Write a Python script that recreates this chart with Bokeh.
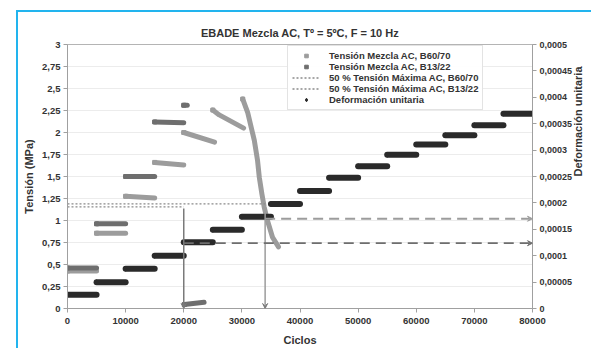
import math
from bokeh.plotting import figure
from bokeh.models import (Range1d, LinearAxis, FixedTicker, Legend, LegendItem,
                          Arrow, VeeHead, CustomJSTickFormatter)
from bokeh.embed import file_html
from bokeh.resources import INLINE

# ---------------- data ----------------
title_text = "EBADE Mezcla AC, Tº = 5ºC, F = 10 Hz"

# Deformación unitaria (steps of load)
step_start = [0, 5000, 10000, 15000, 20000, 25000, 30000, 35000,
              40000, 45000, 50000, 55000, 60000, 65000, 70000, 75000]
step_end = [5000, 10000, 15000, 20000, 25000, 30000, 35000, 40000,
            45000, 50000, 55000, 60000, 65000, 70000, 75000, 80000]
strain = [0.000026, 0.0000498, 0.0000752, 0.0000998, 0.0001256, 0.000149,
          0.0001737, 0.000198, 0.0002225, 0.0002475, 0.0002695, 0.000291,
          0.0003106, 0.000328, 0.000347, 0.000369]

# Tensión Mezcla AC, B60/70 (pieces of the series)
b6070_x = [[0, 5000], [5000, 10000], [10000, 15000], [15000, 20000],
           [20000, 25300], [25000, 26100, 30300],
           [30150, 30990, 32140, 32700, 33000, 33450, 33850, 34400, 35270, 36300]]
b6070_y = [[0.425, 0.425], [0.856, 0.856], [1.275, 1.255], [1.66, 1.63],
           [2.0, 1.89], [2.255, 2.2, 2.05],
           [2.38, 2.23, 1.91, 1.68, 1.49, 1.30, 1.15, 1.0, 0.81, 0.70]]

# Tensión Mezcla AC, B13/22
b1322_x = [[0, 5000], [5000, 10000], [10000, 15000], [15000, 20000],
           [20000, 20600], [20100, 23500]]
b1322_y = [[0.46, 0.46], [0.962, 0.962], [1.5, 1.5], [2.12, 2.11],
           [2.31, 2.31], [0.045, 0.07]]

# 50 % Tensión Máxima
series_names = ["B60/70", "B13/22"]
max_tension = [2.38, 2.31]
half_tension = [v / 2 for v in max_tension]
cross_cycles = [34000, 20000]
cross_strain = [0.00017, 0.0001237]

# ticks
x_ticks = [0, 10000, 20000, 30000, 40000, 50000, 60000, 70000, 80000]
y_ticks = [0, 0.25, 0.5, 0.75, 1, 1.25, 1.5, 1.75, 2, 2.25, 2.5, 2.75, 3]
y2_ticks = [0, 0.00005, 0.0001, 0.00015, 0.0002, 0.00025, 0.0003,
            0.00035, 0.0004, 0.00045, 0.0005]

# ---------------- styles ----------------
FONT = "Liberation Sans"
TXT = "#333333"
AX = "#a0a0a0"
LIGHT = "#9c9c9c"
DARK = "#6e6e6e"
BLACK = "#2a2a2a"
CYAN = "#22b4ee"

p = figure(width=575, height=338, x_range=Range1d(0, 80000), y_range=Range1d(0, 3),
           output_backend="svg", toolbar_location=None,
           min_border_left=49, min_border_right=58, min_border_top=32, min_border_bottom=42)
p.styles = {"position": "absolute", "left": "16px", "top": "10px",
            "border-top": f"2px solid {CYAN}", "border-left": f"2px solid {CYAN}"}
p.extra_y_ranges = {"strain": Range1d(0, 0.0005)}
p.background_fill_color = "white"
p.border_fill_color = "white"
p.outline_line_color = "#b4b4b4"

p.title.text = title_text
p.title.align = "center"
p.title.text_font = FONT
p.title.text_font_size = "11px"
p.title.text_font_style = "bold"
p.title.text_color = TXT
p.title.standoff = 12
p.title.offset = 10

JS = "return Number(tick.toPrecision(6)).toString().replace('.', ',');"

def style_axis(ax, label, size="9.5px"):
    ax.axis_label = label
    ax.axis_label_text_font = FONT
    ax.axis_label_text_font_size = "11px"
    ax.axis_label_text_font_style = "bold"
    ax.axis_label_text_color = TXT
    ax.major_label_text_font = FONT
    ax.major_label_text_font_size = size
    ax.major_label_text_font_style = "bold"
    ax.major_label_text_color = TXT
    ax.axis_line_color = AX
    ax.major_tick_line_color = AX
    ax.major_tick_out = 4
    ax.major_tick_in = 0
    ax.minor_tick_line_color = None

xa = p.xaxis[0]
xa.ticker = FixedTicker(ticks=x_ticks)
xa.formatter = CustomJSTickFormatter(code=JS)
style_axis(xa, "Ciclos", "9.5px")
xa.major_label_standoff = 5
xa.axis_label_standoff = 7

ya = p.yaxis[0]
ya.ticker = FixedTicker(ticks=y_ticks)
ya.formatter = CustomJSTickFormatter(code=JS)
style_axis(ya, "Tensión (MPa)", "9.5px")
ya.major_label_standoff = 3
ya.axis_label_standoff = 4

ya2 = LinearAxis(y_range_name="strain", ticker=FixedTicker(ticks=y2_ticks),
                 formatter=CustomJSTickFormatter(code=JS))
style_axis(ya2, "Deformación unitaria", "9px")
ya2.major_label_standoff = 3
ya2.axis_label_standoff = 3
ya2.axis_label_orientation = math.pi / 2
p.add_layout(ya2, "right")

p.xgrid.visible = False
p.ygrid.ticker = FixedTicker(ticks=y_ticks)
p.ygrid.grid_line_color = "#ececec"

# ---------------- tension series ----------------
sq1 = p.scatter(x=[xs[0] for xs in b6070_x], y=[ys[0] for ys in b6070_y],
                marker="square", size=4, fill_color=LIGHT, line_color=LIGHT)
p.multi_line(xs=b6070_x, ys=b6070_y, line_width=5, line_color=LIGHT,
             line_cap="round", line_join="round")
sq2 = p.scatter(x=[xs[0] for xs in b1322_x], y=[ys[0] for ys in b1322_y],
                marker="square", size=4, fill_color=DARK, line_color=DARK)
p.multi_line(xs=b1322_x, ys=b1322_y, line_width=5, line_color=DARK,
             line_cap="round", line_join="round")

# ---------------- 50 % lines ----------------
dot_renderers = []
for i, col in enumerate([LIGHT, DARK]):
    r = p.segment(x0=[x_ticks[0]], y0=[half_tension[i]], x1=[cross_cycles[i]], y1=[half_tension[i]],
                  line_color="#8a8a8a", line_width=1.3, line_dash="2 2")
    dot_renderers.append(r)
    # vertical arrow down to the cycles axis
    p.add_layout(Arrow(x_start=cross_cycles[i], y_start=half_tension[i] - 0.02,
                       x_end=cross_cycles[i], y_end=0,
                       line_color=col if i == 0 else "#7a7a7a", line_width=1.5,
                       end=VeeHead(size=5, fill_color="#7a7a7a", line_color="#7a7a7a")))
    # horizontal dashed arrow to the strain axis
    p.add_layout(Arrow(x_start=cross_cycles[i], y_start=cross_strain[i],
                       x_end=x_ticks[-1], y_end=cross_strain[i], y_range_name="strain",
                       line_color=col, line_width=1.8, line_dash="10 6",
                       end=VeeHead(size=5, fill_color=col, line_color=col)))

# ---------------- strain ----------------
dm = p.scatter(x=step_start, y=strain, y_range_name="strain", marker="diamond",
               size=5, fill_color=BLACK, line_color=BLACK)
p.segment(x0=step_start, y0=strain, x1=step_end, y1=strain, y_range_name="strain",
          line_width=6, line_color=BLACK, line_cap="round")

legend = Legend(items=[
    LegendItem(label="Tensión Mezcla AC, " + series_names[0], renderers=[sq1]),
    LegendItem(label="Tensión Mezcla AC, " + series_names[1], renderers=[sq2]),
    LegendItem(label="50 % Tensión Máxima AC, " + series_names[0], renderers=[dot_renderers[0]]),
    LegendItem(label="50 % Tensión Máxima AC, " + series_names[1], renderers=[dot_renderers[1]]),
    LegendItem(label="Deformación unitaria", renderers=[dm]),
], location=(220, 198))
legend.label_text_font = FONT
legend.label_text_font_size = "9.5px"
legend.label_text_font_style = "bold"
legend.label_text_color = TXT
legend.border_line_color = "#c8c8c8"
legend.background_fill_color = "white"
legend.padding = 4
legend.spacing = 0
legend.margin = 0
legend.label_height = 9
legend.glyph_height = 9
legend.glyph_width = 28
legend.label_standoff = 9
p.add_layout(legend)

open("out.html", "w").write(file_html(p, INLINE))
